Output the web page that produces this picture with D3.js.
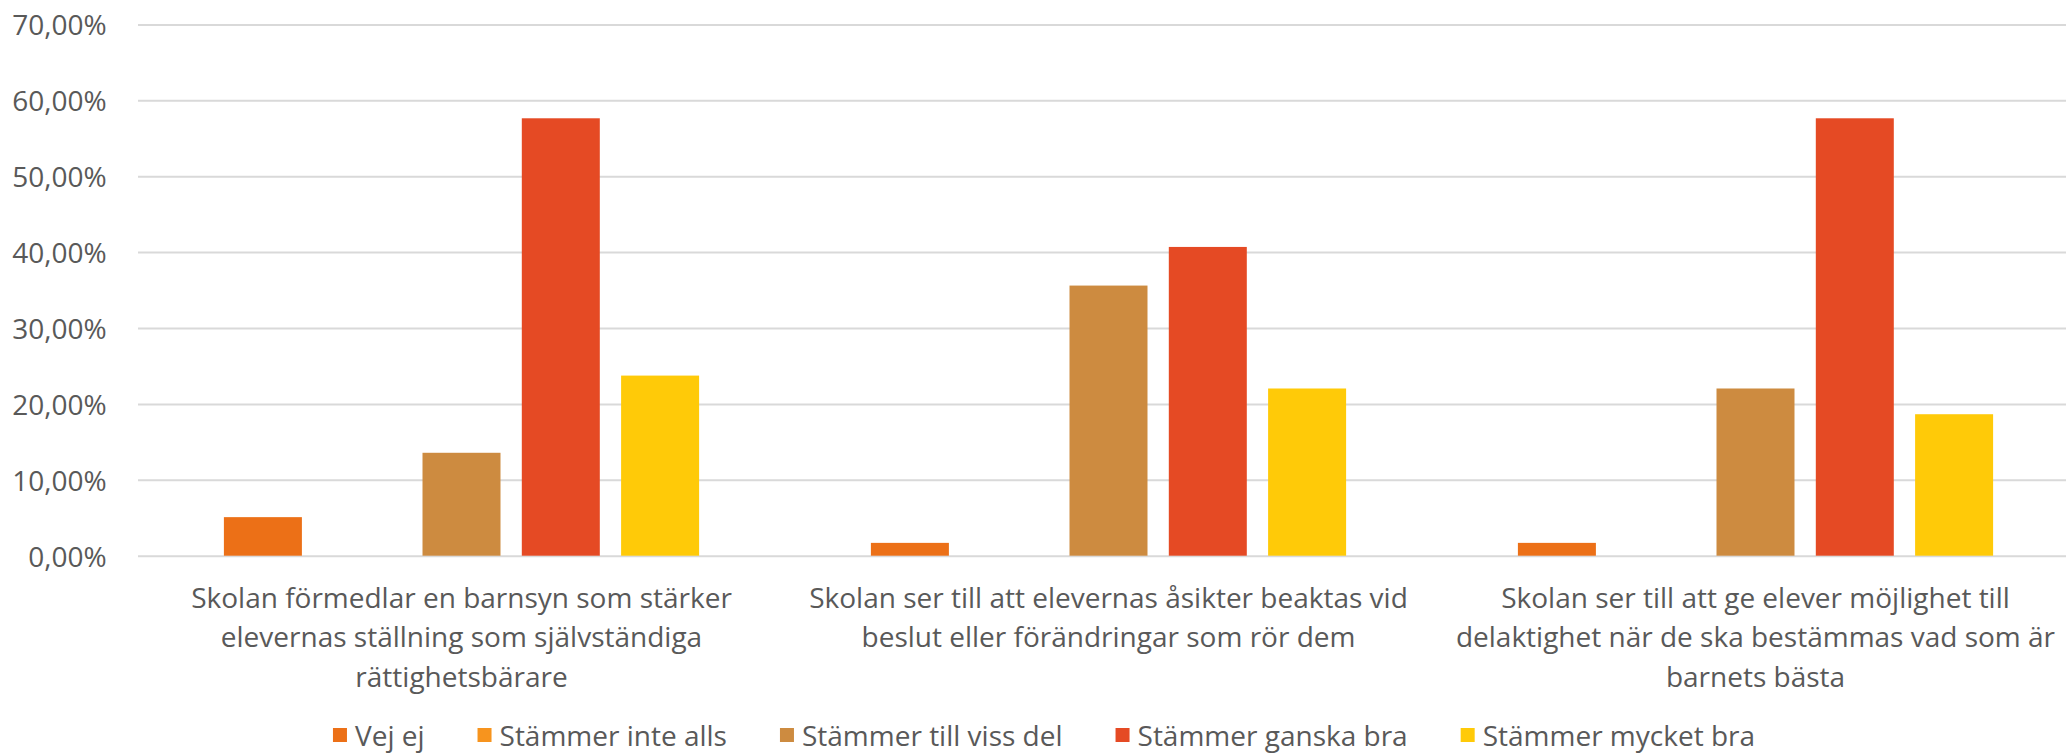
<!DOCTYPE html>
<html>
<head>
<meta charset="utf-8">
<script src="https://cdn.jsdelivr.net/npm/d3@7"></script>
<style>
  body { margin: 0; background: #fff; }
  svg { display: block; }
  text { font-family: "Open Sans", "Noto Sans", sans-serif; fill: #595959; }
  .grid line { stroke: #d9d9d9; stroke-width: 2px; }
  .grid path { display: none; }
</style>
</head>
<body>
<div id="chart"></div>
<script>
// data (share of answers per statement)
let categories = [
  "Skolan förmedlar en barnsyn som stärker elevernas ställning som självständiga rättighetsbärare",
  "Skolan ser till att elevernas åsikter beaktas vid beslut eller förändringar som rör dem",
  "Skolan ser till att ge elever möjlighet till delaktighet när de ska bestämmas vad som är barnets bästa"
];
// how the category labels break into lines
let categoryLines = [
  ["Skolan förmedlar en barnsyn som stärker", "elevernas ställning som självständiga", "rättighetsbärare"],
  ["Skolan ser till att elevernas åsikter beaktas vid", "beslut eller förändringar som rör dem"],
  ["Skolan ser till att ge elever möjlighet till", "delaktighet när de ska bestämmas vad som är", "barnets bästa"]
];
let seriesNames = ["Vej ej", "Stämmer inte alls", "Stämmer till viss del", "Stämmer ganska bra", "Stämmer mycket bra"];
let seriesColors = ["#ec7017", "#f7941e", "#cd8b40", "#e54a24", "#ffca08"];

let vejEj        = [0.0508, 0.0169, 0.0169];
let inteAlls     = [0, 0, 0];
let tillVissDel  = [0.1356, 0.3559, 0.2203];
let gansakaBra   = [0.5763, 0.4068, 0.5763];
let mycketBra    = [0.2373, 0.2203, 0.1864];
let seriesValues = [vejEj, inteAlls, tillVissDel, gansakaBra, mycketBra];

let yTicks = [0, 0.1, 0.2, 0.3, 0.4, 0.5, 0.6, 0.7];

// table for d3
let rows = [];
categories.forEach(function(c, ci) {
  seriesNames.forEach(function(s, si) {
    rows.push({category: c, series: s, value: seriesValues[si][ci]});
  });
});

// size of the picture and plot area (plot runs a bit past the right edge, like the original)
let W = 2066, H = 755;
let plot = {left: 138, right: 2079, top: 24.4, bottom: 555.7};
let fontSize = 28;

let svg = d3.select("#chart")
  .append("svg")
  .attr("width", W)
  .attr("height", H);

// swedish number format: 70,00%
let sv = d3.formatLocale({decimal: ",", thousands: " ", grouping: [3], currency: ["", " kr"]});
let pct = sv.format(".2%");

// Y AXIS //
let y = d3.scaleLinear()
  .domain([0, 0.7])
  .range([plot.bottom, plot.top]);

// gridlines
svg.append("g")
  .attr("class", "grid")
  .attr("transform", "translate(" + plot.left + ",0)")
  .call(d3.axisLeft(y)
    .tickValues(yTicks)
    .tickFormat("")
    .tickSize(-(plot.right - plot.left))
    .tickSizeOuter(0));

// tick labels
svg.append("g")
  .selectAll("text")
  .data(yTicks)
  .enter()
  .append("text")
  .attr("x", 106.7)
  .attr("y", function(d) { return y(d); })
  .attr("text-anchor", "end")
  .attr("dominant-baseline", "central")
  .style("font-size", fontSize + "px")
  .text(function(d) { return pct(d); });

// X SCALES //
let x0 = d3.scaleBand()
  .domain(categories)
  .range([plot.left, plot.right])
  .padding(0);

let x1 = d3.scaleBand()
  .domain(seriesNames)
  .range([0, x0.bandwidth()])
  .paddingInner(0.2145)
  .paddingOuter(0.865);

let color = d3.scaleOrdinal().domain(seriesNames).range(seriesColors);

// BARS //
svg.append("g")
  .selectAll("rect")
  .data(rows)
  .enter()
  .append("rect")
  .attr("x", function(d) { return x0(d.category) + x1(d.series); })
  .attr("y", function(d) { return y(d.value); })
  .attr("width", x1.bandwidth())
  .attr("height", function(d) { return y(0) - y(d.value); })
  .style("fill", function(d) { return color(d.series); });

// category labels
let lineHeight = 39.3;
let catLabels = svg.append("g")
  .selectAll("text")
  .data(categories)
  .enter()
  .append("text")
  .attr("text-anchor", "middle")
  .style("font-size", fontSize + "px");

catLabels.each(function(d, i) {
  let t = d3.select(this);
  categoryLines[i].forEach(function(line, li) {
    t.append("tspan")
      .attr("x", x0(d) + x0.bandwidth() / 2)
      .attr("y", 597 + li * lineHeight)
      .attr("dominant-baseline", "central")
      .text(line);
  });
});

// LEGEND //
let legendY = 735, box = 14, boxGap = 8, itemGap = 53;
let legend = svg.append("g");
let items = legend.selectAll("g")
  .data(seriesNames)
  .enter()
  .append("g");

items.append("rect")
  .attr("width", box)
  .attr("height", box)
  .attr("y", legendY - box / 2)
  .style("fill", function(d) { return color(d); });

items.append("text")
  .attr("x", box + boxGap)
  .attr("y", legendY)
  .attr("dominant-baseline", "central")
  .style("font-size", fontSize + "px")
  .text(function(d) { return d; });

// place legend items next to each other, centred
let widths = [];
items.each(function() { widths.push(this.getBBox().width); });
let total = d3.sum(widths) + itemGap * (widths.length - 1);
let xPos = 1044 - total / 2;
items.each(function(d, i) {
  d3.select(this).attr("transform", "translate(" + xPos + ",0)");
  xPos += widths[i] + itemGap;
});
</script>
</body>
</html>
